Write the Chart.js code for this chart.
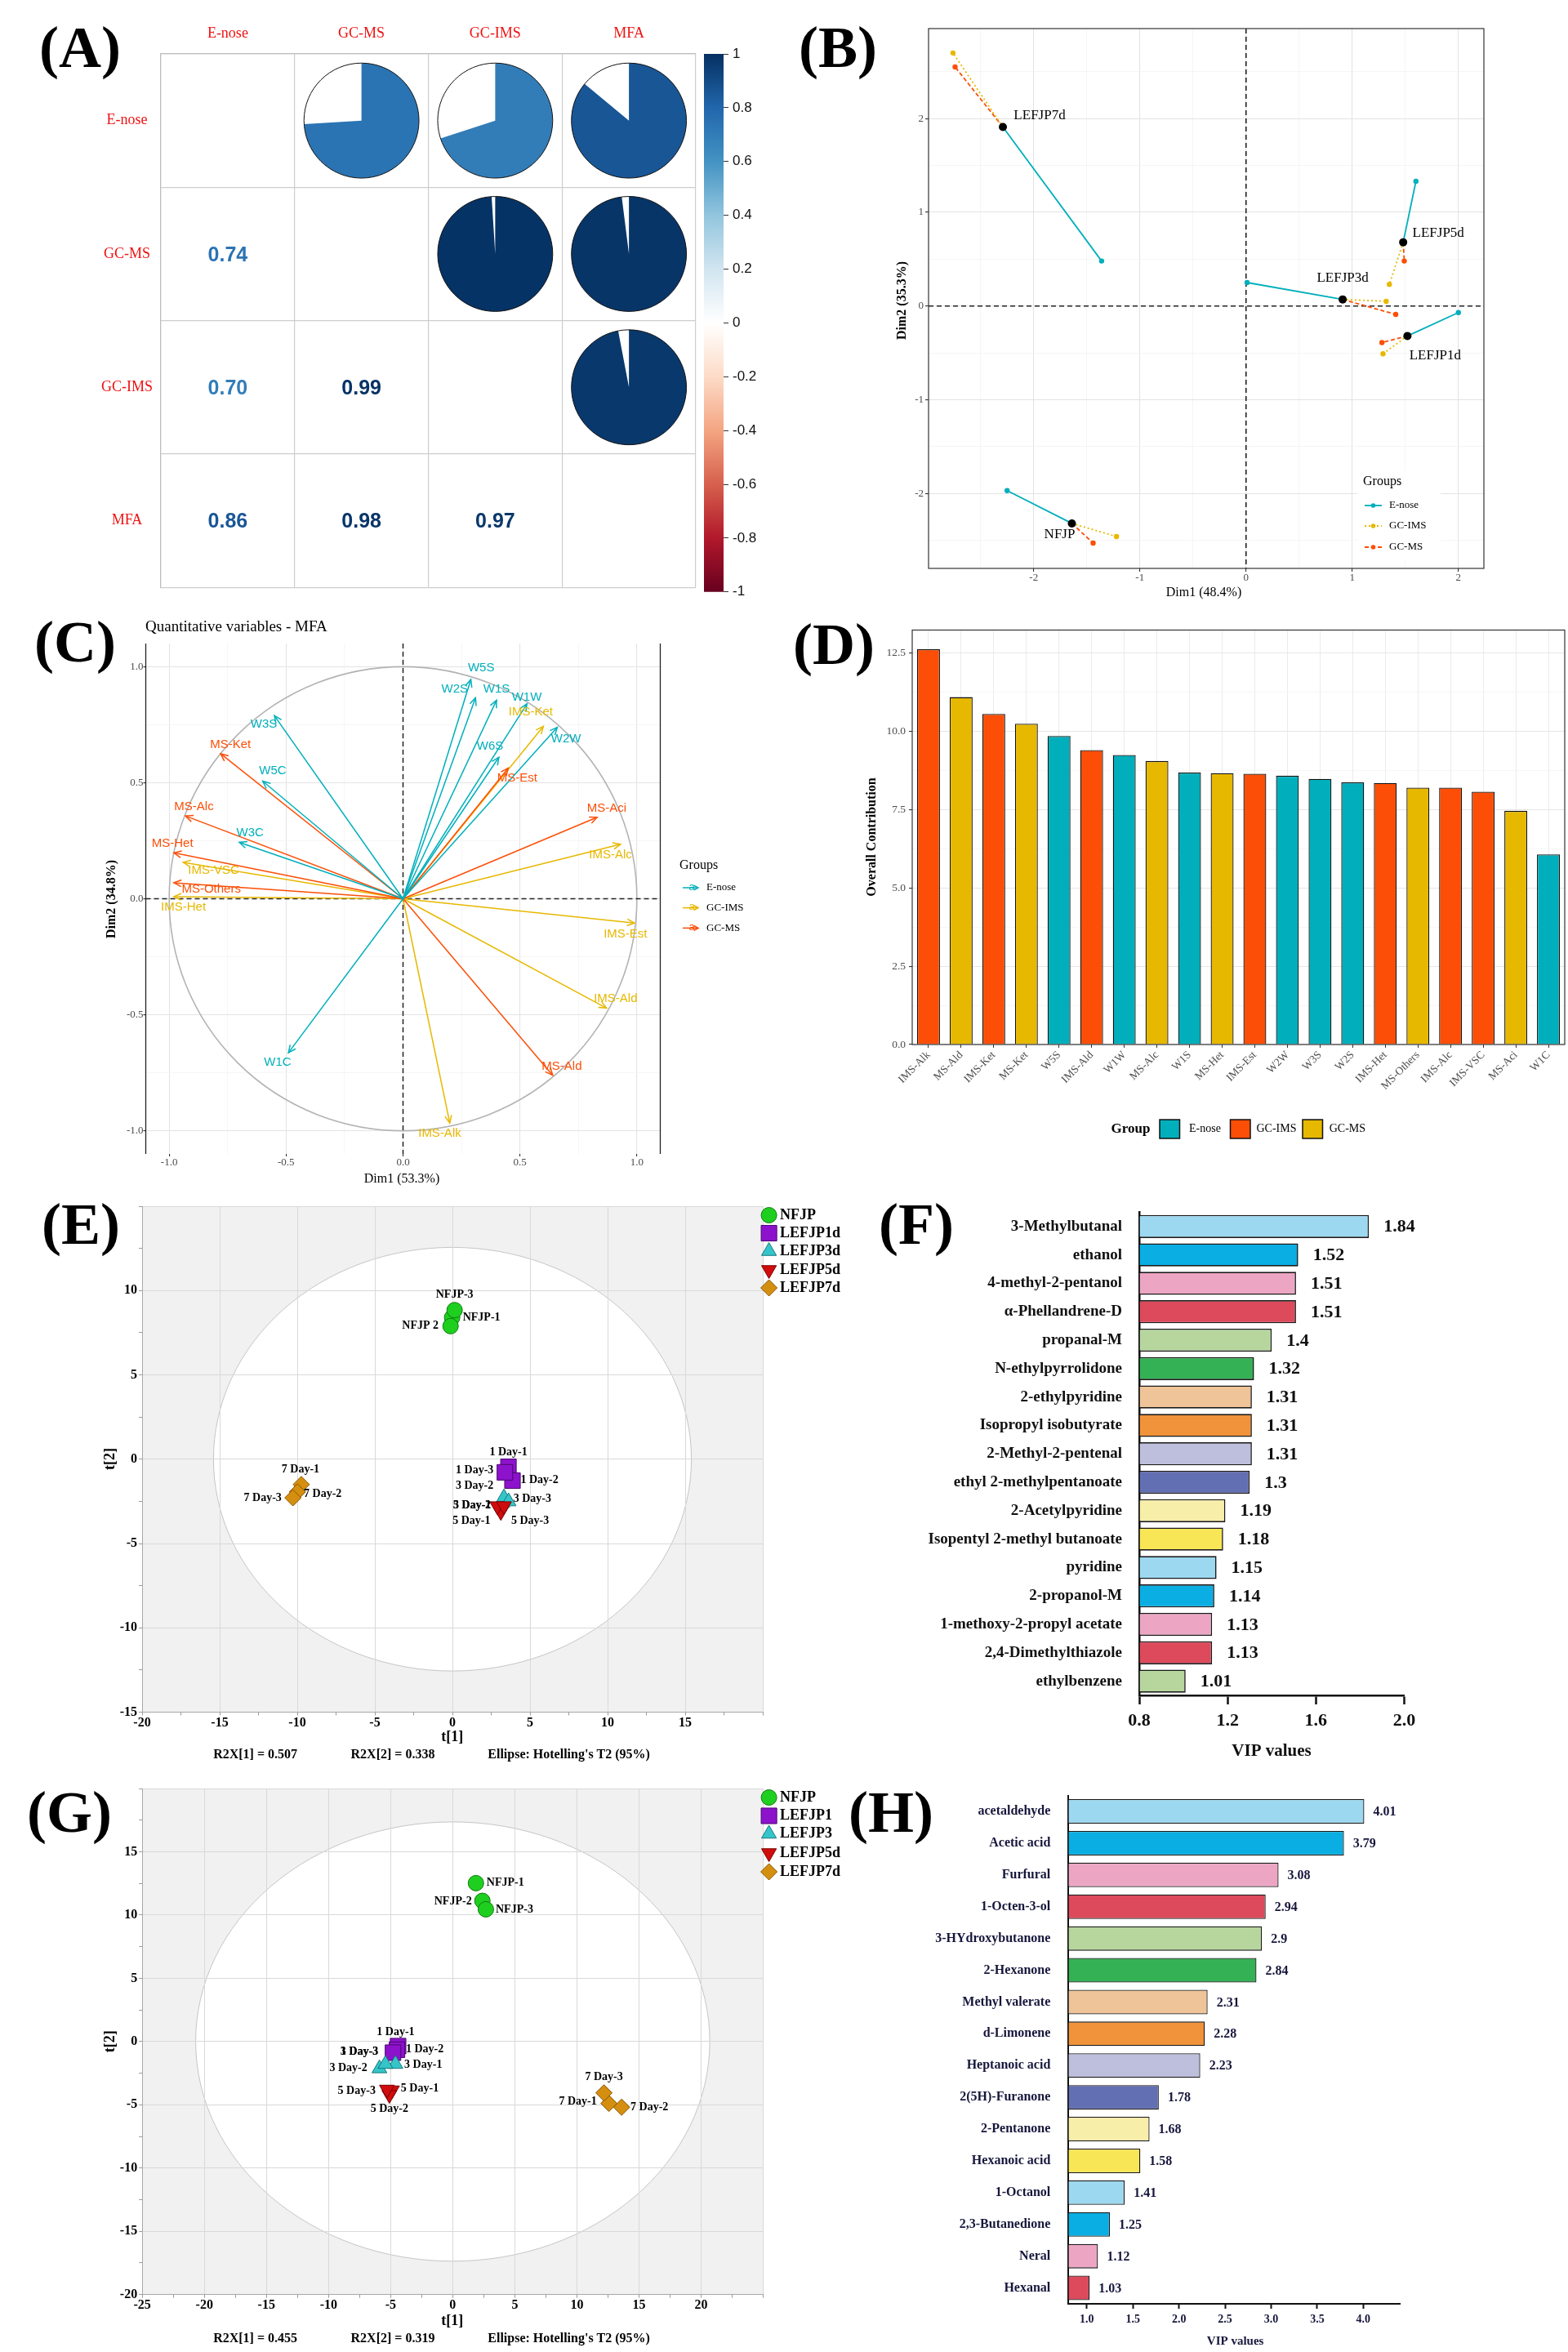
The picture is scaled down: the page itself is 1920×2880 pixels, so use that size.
<!DOCTYPE html>
<html><head><meta charset="utf-8"><title>Figure</title>
<script src="https://cdn.jsdelivr.net/npm/chart.js@4.4.1/dist/chart.umd.min.js"></script>
<style>
html,body{margin:0;padding:0;background:#fff;}
body{position:relative;width:1920px;height:2880px;overflow:hidden;}
canvas{position:absolute;}
.plab{position:absolute;font-family:'Liberation Serif','Times New Roman',serif;font-weight:bold;font-size:72px;line-height:1;color:#000;white-space:nowrap;}
</style></head>
<body>
<div class="plab" style="left:48px;top:22px">(A)</div>
<div class="plab" style="left:978px;top:22px">(B)</div>
<div class="plab" style="left:42px;top:750px">(C)</div>
<div class="plab" style="left:971px;top:753px">(D)</div>
<div class="plab" style="left:51px;top:1463px">(E)</div>
<div class="plab" style="left:1076px;top:1463px">(F)</div>
<div class="plab" style="left:33px;top:2183px">(G)</div>
<div class="plab" style="left:1039px;top:2183px">(H)</div>
<script>
/* ================= DATA ================= */
// (A) correlation matrix
const corrLabels = ['E-nose','GC-MS','GC-IMS','MFA'];
const corrRows = [
  [1.00, 0.74, 0.70, 0.86],
  [0.74, 1.00, 0.99, 0.98],
  [0.70, 0.99, 1.00, 0.97],
  [0.86, 0.98, 0.97, 1.00]
];
const colorbarRange = [-1, 1];
const colorbarTicks = [-1,-0.8,-0.6,-0.4,-0.2,0,0.2,0.4,0.6,0.8,1];

// (B) MFA individuals with partial points
const mfaSamples = ['NFJP','LEFJP1d','LEFJP3d','LEFJP5d','LEFJP7d'];
const mfaDim1   = [-1.64, 1.52, 0.91, 1.48, -2.29];
const mfaDim2   = [-2.32, -0.32, 0.07, 0.68, 1.91];
const enoseDim1 = [-2.25, 2.00, 0.01, 1.60, -1.36];
const enoseDim2 = [-1.97, -0.07, 0.25, 1.33, 0.48];
const gcimsDim1 = [-1.22, 1.29, 1.32, 1.35, -2.76];
const gcimsDim2 = [-2.46, -0.51, 0.05, 0.23, 2.70];
const gcmsDim1  = [-1.44, 1.28, 1.41, 1.49, -2.74];
const gcmsDim2  = [-2.53, -0.39, -0.09, 0.48, 2.55];
const bTicksX = [-2.5,-2,-1.5,-1,-0.5,0,0.5,1,1.5,2];
const bTicksY = [-2.5,-2,-1.5,-1,-0.5,0,0.5,1,1.5,2,2.5];

// (C) MFA variable correlation circle
const cVars   = ['W5S','W2S','W1S','W1W','W2W','W6S','W3S','W5C','W3C','W1C',
                 'MS-Ket','MS-Alc','MS-Het','MS-Others','MS-Est','MS-Aci','MS-Ald',
                 'IMS-Ket','IMS-Alc','IMS-Est','IMS-Ald','IMS-Alk','IMS-VSC','IMS-Het'];
const cGroups = ['E-nose','E-nose','E-nose','E-nose','E-nose','E-nose','E-nose','E-nose','E-nose','E-nose',
                 'GC-MS','GC-MS','GC-MS','GC-MS','GC-MS','GC-MS','GC-MS',
                 'GC-IMS','GC-IMS','GC-IMS','GC-IMS','GC-IMS','GC-IMS','GC-IMS'];
const cDim1 = [0.29,0.31,0.40,0.53,0.66,0.41,-0.55,-0.60,-0.70,-0.49,
               -0.78,-0.93,-0.98,-0.98,0.45,0.83,0.64,
               0.60,0.93,0.99,0.87,0.20,-0.94,-0.98];
const cDim2 = [0.945,0.866,0.856,0.84,0.739,0.61,0.789,0.507,0.243,-0.664,
               0.625,0.357,0.198,0.069,0.563,0.351,-0.761,
               0.743,0.235,-0.105,-0.471,-0.967,0.157,0.009];
const cLabDim1 = [0.334,0.221,0.40,0.529,0.697,0.372,-0.595,-0.557,-0.654,-0.536,
                  -0.738,-0.894,-0.986,-0.820,0.488,0.871,0.679,
                  0.546,0.887,0.951,0.909,0.157,-0.810,-0.939];
const cLabDim2 = [0.994,0.905,0.903,0.868,0.690,0.657,0.751,0.551,0.284,-0.705,
                  0.665,0.396,0.239,0.042,0.520,0.391,-0.723,
                  0.805,0.189,-0.151,-0.431,-1.011,0.123,-0.035];
const cTicks = [-1,-0.75,-0.5,-0.25,0,0.25,0.5,0.75,1];

// (D) overall contribution
const contribVars = ['IMS-Alk','MS-Ald','IMS-Ket','MS-Ket','W5S','IMS-Ald','W1W','MS-Alc','W1S','MS-Het',
                     'IMS-Est','W2W','W3S','W2S','IMS-Het','MS-Others','IMS-Alc','IMS-VSC','MS-Aci','W1C'];
const contribGroups = ['GC-IMS','GC-MS','GC-IMS','GC-MS','E-nose','GC-IMS','E-nose','GC-MS','E-nose','GC-MS',
                       'GC-IMS','E-nose','E-nose','E-nose','GC-IMS','GC-MS','GC-IMS','GC-IMS','GC-MS','E-nose'];
const contribValues = [12.62,11.09,10.55,10.24,9.85,9.40,9.24,9.05,8.68,8.66,
                       8.64,8.58,8.48,8.37,8.35,8.20,8.20,8.07,7.46,6.07];
const dTicksY = [0,1.25,2.5,3.75,5,6.25,7.5,8.75,10,11.25,12.5];

// (E) PCA scores (GC-IMS)
const eGroups = ['NFJP','LEFJP1d','LEFJP3d','LEFJP5d','LEFJP7d'];
const eSamples = [['NFJP-1','NFJP 2','NFJP-3'],['1 Day-1','1 Day-2','1 Day-3'],['3 Day-1','3 Day-2','3 Day-3'],['5 Day-1','5 Day-2','5 Day-3'],['7 Day-1','7 Day-2','7 Day-3']];
const eT1 = [[-0.02,-0.12,0.14],[3.61,3.87,3.38],[3.22,3.32,3.62],[3.12,2.89,3.32],[-9.74,-9.99,-10.28]];
const eT2 = [[8.40,7.89,8.84],[-0.45,-1.27,-0.78],[-2.58,-2.27,-2.51],[-3.12,-2.78,-2.78],[-1.50,-1.94,-2.29]];
const eEllipse = [15.4, 12.56];
const eTicksX = [-20,-17.5,-15,-12.5,-10,-7.5,-5,-2.5,0,2.5,5,7.5,10,12.5,15,17.5,20];
const eTicksY = [-15,-12.5,-10,-7.5,-5,-2.5,0,2.5,5,7.5,10,12.5,15];
const eFooter = ['R2X[1] = 0.507','R2X[2] = 0.338','Ellipse: Hotelling\'s T2 (95%)'];

// (F) VIP values
const fCompounds = ['3-Methylbutanal','ethanol','4-methyl-2-pentanol','\u03b1-Phellandrene-D','propanal-M','N-ethylpyrrolidone',
  '2-ethylpyridine','Isopropyl isobutyrate','2-Methyl-2-pentenal','ethyl 2-methylpentanoate','2-Acetylpyridine',
  'Isopentyl 2-methyl butanoate','pyridine','2-propanol-M','1-methoxy-2-propyl acetate','2,4-Dimethylthiazole','ethylbenzene'];
const fVIP = [1.84,1.52,1.51,1.51,1.4,1.32,1.31,1.31,1.31,1.3,1.19,1.18,1.15,1.14,1.13,1.13,1.01];
const fTicks = [0.8,1.2,1.6,2.0];

// (G) PCA scores (GC-MS)
const gGroups = ['NFJP','LEFJP1','LEFJP3','LEFJP5d','LEFJP7d'];
const gSamples = [['NFJP-1','NFJP-2','NFJP-3'],['1 Day-1','1 Day-2','1 Day-3'],['3 Day-1','3 Day-2','3 Day-3'],['5 Day-1','5 Day-2','5 Day-3'],['7 Day-1','7 Day-2','7 Day-3']];
const gT1 = [[1.87,2.39,2.67],[-4.40,-4.49,-4.81],[-4.61,-5.90,-5.42],[-4.89,-5.10,-5.30],[12.58,13.60,12.18]];
const gT2 = [[12.52,11.12,10.45],[-0.36,-0.65,-0.88],[-1.78,-2.13,-1.78],[-3.85,-4.21,-3.79],[-4.89,-5.19,-4.06]];
const gEllipse = [20.7, 17.36];
const gTicksX = [-25,-22.5,-20,-17.5,-15,-12.5,-10,-7.5,-5,-2.5,0,2.5,5,7.5,10,12.5,15,17.5,20,22.5,25];
const gTicksY = [-20,-17.5,-15,-12.5,-10,-7.5,-5,-2.5,0,2.5,5,7.5,10,12.5,15,17.5,20];
const gFooter = ['R2X[1] = 0.455','R2X[2] = 0.319','Ellipse: Hotelling\'s T2 (95%)'];

// (H) VIP values
const hCompounds = ['acetaldehyde','Acetic acid','Furfural','1-Octen-3-ol','3-HYdroxybutanone','2-Hexanone','Methyl valerate',
  'd-Limonene','Heptanoic acid','2(5H)-Furanone','2-Pentanone','Hexanoic acid','1-Octanol','2,3-Butanedione','Neral','Hexanal'];
const hVIP = [4.01,3.79,3.08,2.94,2.9,2.84,2.31,2.28,2.23,1.78,1.68,1.58,1.41,1.25,1.12,1.03];
const hTicks = [1.0,1.5,2.0,2.5,3.0,3.5,4.0];

/* ================= STYLE / LAYOUT ================= */
const SERIF = "'Liberation Serif','Times New Roman',serif";
const SANS = "'Liberation Sans',Arial,sans-serif";
const NARROW = "'Liberation Sans Narrow','Liberation Sans',Arial,sans-serif";
const RDBU = ['#67001F','#B2182B','#D6604D','#F4A582','#FDDBC7','#FFFFFF','#D1E5F0','#92C5DE','#4393C3','#2166AC','#053061'];
const groupColors = {'E-nose':'#00AFBB','GC-IMS':'#E7B800','GC-MS':'#FC4E07'};
const dColors = {'E-nose':'#00AFBB','GC-IMS':'#FC4E07','GC-MS':'#E7B800'};
const vipPalette = ['#9DD8F1','#0AAEE2','#ECA6C3','#DC4A5C','#B6D69E','#35B155','#EEC498','#F0933A','#BEBFDD','#636FB3','#F7EEA9','#F8E656'];
const markerStyles = [
  {shape:'circle', r:9.5, rot:0, bg:'#1fcf1f', bd:'#0d7a0d'},
  {shape:'rect', r:13.5, rot:0, bg:'#8d12cc', bd:'#4b0870'},
  {shape:'triangle', r:10.5, rot:0, bg:'#34c5c9', bd:'#16797d'},
  {shape:'triangle', r:10.5, rot:180, bg:'#d00c0c', bd:'#780000'},
  {shape:'rectRot', r:10, rot:0, bg:'#d58f10', bd:'#875500'}
];

Chart.defaults.animation = false;
Chart.defaults.responsive = false;
Chart.defaults.maintainAspectRatio = false;
Chart.defaults.devicePixelRatio = 1;
Chart.defaults.events = [];
Chart.defaults.plugins.legend.display = false;
Chart.defaults.plugins.tooltip.enabled = false;
Chart.defaults.font.family = SERIF;
Chart.defaults.color = '#000';

function hex2rgb(h){return [parseInt(h.slice(1,3),16),parseInt(h.slice(3,5),16),parseInt(h.slice(5,7),16)];}
function rdbu(v){
  const t=(v+1)/2*10; const i=Math.max(0,Math.min(9,Math.floor(t))); const f=t-i;
  const a=hex2rgb(RDBU[i]), b=hex2rgb(RDBU[i+1]);
  return 'rgb('+a.map((c,k)=>Math.round(c+(b[k]-c)*f)).join(',')+')';
}
function makeCanvas(box){
  const c=document.createElement('canvas');
  c.width=box.w; c.height=box.h;
  c.style.left=box.x+'px'; c.style.top=box.y+'px'; c.style.width=box.w+'px'; c.style.height=box.h+'px';
  document.body.appendChild(c); return c;
}
function padFor(box,area){return {left:0, top:area.t-box.y, right:(box.x+box.w)-area.r, bottom:0};}
const fitX=(box,area)=>s=>{s.height=(box.y+box.h)-area.b;};
const fitY=(box,area)=>s=>{s.width=area.l-box.x;};
function setTicks(arr){return s=>{s.ticks=arr.map(v=>({value:v}));};}
function isMult(c,step){ if(!c.tick) return false; const q=c.tick.value/step; return Math.abs(q-Math.round(q))<1e-9; }
// text in page coordinates
function T(ctx,box,s,x,y,o){
  o=o||{};
  ctx.save();
  ctx.font=(o.weight||'normal')+' '+(o.size||14)+'px '+(o.family||SERIF);
  ctx.fillStyle=o.color||'#000';
  ctx.textAlign=o.align||'center';
  ctx.textBaseline=o.baseline||'middle';
  ctx.translate(x-box.x,y-box.y);
  if(o.rot) ctx.rotate(o.rot);
  ctx.fillText(s,0,0);
  ctx.restore();
}
function drawMarker(ctx,st,x,y,r){
  ctx.save(); ctx.fillStyle=st.bg; ctx.strokeStyle=st.bd; ctx.lineWidth=1;
  if(Chart.helpers && Chart.helpers.drawPoint){
    Chart.helpers.drawPoint(ctx,{pointStyle:st.shape,rotation:st.rot,radius:r||st.r,borderWidth:1},x,y);
  } else { ctx.beginPath(); ctx.arc(x,y,r||st.r,0,2*Math.PI); ctx.fill(); ctx.stroke(); }
  ctx.restore();
}
function arrowHead(ctx,x0,y0,x1,y1,color,L,w,lw){
  const a=Math.atan2(y1-y0,x1-x0);
  ctx.save(); ctx.strokeStyle=color; ctx.lineWidth=lw||1.5; ctx.setLineDash([]);
  ctx.beginPath();
  ctx.moveTo(x1-L*Math.cos(a-w),y1-L*Math.sin(a-w)); ctx.lineTo(x1,y1); ctx.lineTo(x1-L*Math.cos(a+w),y1-L*Math.sin(a+w));
  ctx.stroke(); ctx.restore();
}

/* ================= (A) ================= */
const boxA={x:100,y:20,w:760,h:720}, areaA={l:197,t:66,r:852,b:726};
const upperCells=[], lowerCells=[];
corrLabels.forEach((row,i)=>corrLabels.forEach((col,j)=>{
  if(j>i) upperCells.push({x:col,y:row,v:corrRows[i][j]});
  else if(j<i) lowerCells.push({x:col,y:row,v:corrRows[i][j]});
}));
const corrPlugin={id:'corr', afterDatasetsDraw(chart){
  const ctx=chart.ctx, xs=chart.scales.x;
  const cell=Math.abs(xs.getPixelForValue(1)-xs.getPixelForValue(0));
  const R=cell*0.43;
  const up=chart.data.datasets[0].data, lo=chart.data.datasets[1].data;
  chart.getDatasetMeta(0).data.forEach((el,i)=>{
    const v=up[i].v, s=-Math.PI/2;
    ctx.save();
    ctx.beginPath(); ctx.arc(el.x,el.y,R,0,2*Math.PI); ctx.fillStyle='#fff'; ctx.fill();
    ctx.beginPath(); ctx.moveTo(el.x,el.y); ctx.arc(el.x,el.y,R,s,s+2*Math.PI*v); ctx.closePath(); ctx.fillStyle=rdbu(v); ctx.fill();
    ctx.beginPath(); ctx.arc(el.x,el.y,R,0,2*Math.PI); ctx.strokeStyle='#111'; ctx.lineWidth=1; ctx.stroke();
    ctx.restore();
  });
  chart.getDatasetMeta(1).data.forEach((el,i)=>{
    const v=lo[i].v;
    ctx.save(); ctx.font='bold 25px '+NARROW; ctx.fillStyle=rdbu(v); ctx.textAlign='center'; ctx.textBaseline='middle';
    ctx.fillText(v.toFixed(2),el.x,el.y+2); ctx.restore();
  });
}};
new Chart(makeCanvas(boxA),{
  type:'scatter',
  data:{datasets:[{data:upperCells,pointRadius:0},{data:lowerCells,pointRadius:0}]},
  options:{
    layout:{padding:{left:0,top:0,right:(boxA.x+boxA.w)-areaA.r,bottom:(boxA.y+boxA.h)-areaA.b}},
    scales:{
      x:{type:'category',labels:corrLabels,position:'top',offset:true,
         grid:{offset:true,color:'#cdcdcd',lineWidth:1.2,drawTicks:false},
         border:{color:'#bdbdbd',width:1.2},
         ticks:{color:'#ee1111',font:{family:SERIF,size:18},padding:14},
         afterFit:s=>{s.height=areaA.t-boxA.y;}},
      y:{type:'category',labels:corrLabels,offset:true,
         grid:{offset:true,color:'#cdcdcd',lineWidth:1.2,drawTicks:false},
         border:{color:'#bdbdbd',width:1.2},
         ticks:{color:'#ee1111',font:{family:SERIF,size:18},padding:10,crossAlign:'center'},
         afterFit:s=>{s.width=areaA.l-boxA.x;}}
    }
  },
  plugins:[corrPlugin]
});
// colour bar
const boxCB={x:850,y:20,w:90,h:720}, areaCB={l:862,t:66,r:886,b:726};
new Chart(makeCanvas(boxCB),{
  type:'bar',
  data:{labels:['r'],datasets:[{data:[colorbarRange],borderWidth:0,barPercentage:1,categoryPercentage:1,
    backgroundColor:c=>{const a=c.chart.chartArea; if(!a) return RDBU[10];
      const g=c.chart.ctx.createLinearGradient(0,a.bottom,0,a.top); RDBU.forEach((col,k)=>g.addColorStop(k/10,col)); return g;}}]},
  options:{
    layout:{padding:{left:areaCB.l-boxCB.x,top:areaCB.t-boxCB.y,right:0,bottom:(boxCB.y+boxCB.h)-areaCB.b}},
    scales:{
      x:{display:false},
      y:{position:'right',bounds:'data',min:-1,max:1,afterBuildTicks:setTicks(colorbarTicks),
         ticks:{callback:v=>String(+v.toFixed(1)),font:{family:NARROW,size:17},color:'#111',padding:5},
         grid:{drawOnChartArea:false,tickLength:6,tickColor:'#333',lineWidth:1},
         border:{display:false},
         afterFit:s=>{s.width=(boxCB.x+boxCB.w)-areaCB.r;}}
    }
  }
});

/* ================= (B) ================= */
const boxB={x:1080,y:20,w:830,h:720}, areaB={l:1137,t:35,r:1817,b:696};
const bTables=[
  {name:'E-nose',x:enoseDim1,y:enoseDim2,dash:[]},
  {name:'GC-IMS',x:gcimsDim1,y:gcimsDim2,dash:[2,3]},
  {name:'GC-MS',x:gcmsDim1,y:gcmsDim2,dash:[5,3]}
];
const bLabelOffsets=[[-15,14],[34,24.5],[0,-26],[43,-11],[45,-14]];
const bLegendY=[619,644,670];
const bDatasets=[{data:mfaSamples.map((s,i)=>({x:mfaDim1[i],y:mfaDim2[i]})),showLine:false,order:-1,
  pointRadius:5,pointBackgroundColor:'#000',pointBorderColor:'#000',pointBorderWidth:0}];
bTables.forEach(t=>mfaSamples.forEach((s,i)=>bDatasets.push({
  data:[{x:mfaDim1[i],y:mfaDim2[i]},{x:t.x[i],y:t.y[i]}],showLine:true,
  borderColor:groupColors[t.name],borderWidth:1.8,borderDash:t.dash,
  pointRadius:[0,3.2],pointBackgroundColor:groupColors[t.name],pointBorderWidth:0})));
const bPlugin={id:'bdeco',
  beforeDatasetsDraw(chart){
    const {ctx,chartArea:a,scales:{x,y}}=chart;
    const x0=x.getPixelForValue(0), y0=y.getPixelForValue(0);
    ctx.save(); ctx.strokeStyle='#222'; ctx.lineWidth=1.6; ctx.setLineDash([6,4]);
    ctx.beginPath(); ctx.moveTo(x0,a.top); ctx.lineTo(x0,a.bottom); ctx.moveTo(a.left,y0); ctx.lineTo(a.right,y0); ctx.stroke();
    ctx.restore();
  },
  afterDraw(chart){
    const {ctx,chartArea:a,scales:{x,y}}=chart;
    ctx.save(); ctx.strokeStyle='#333'; ctx.lineWidth=1.2; ctx.strokeRect(a.left,a.top,a.right-a.left,a.bottom-a.top); ctx.restore();
    mfaSamples.forEach((s,i)=>{
      const px=x.getPixelForValue(mfaDim1[i])+bLabelOffsets[i][0], py=y.getPixelForValue(mfaDim2[i])+bLabelOffsets[i][1];
      ctx.save(); ctx.font='17px '+SERIF; ctx.fillStyle='#000'; ctx.textAlign='center'; ctx.textBaseline='middle'; ctx.fillText(s,px,py); ctx.restore();
    });
    // legend
    ctx.save(); ctx.fillStyle='#fff'; ctx.fillRect(1662-boxB.x,577-boxB.y,102,109); ctx.restore();
    T(ctx,boxB,'Groups',1669,590,{size:16,align:'left'});
    bTables.forEach((t,k)=>{
      const yy=bLegendY[k]-boxB.y;
      ctx.save(); ctx.strokeStyle=groupColors[t.name]; ctx.lineWidth=1.8; ctx.setLineDash(t.dash);
      ctx.beginPath(); ctx.moveTo(1671-boxB.x,yy); ctx.lineTo(1692-boxB.x,yy); ctx.stroke();
      ctx.setLineDash([]); ctx.fillStyle=groupColors[t.name]; ctx.beginPath(); ctx.arc(1681.5-boxB.x,yy,2.8,0,2*Math.PI); ctx.fill();
      ctx.restore();
      T(ctx,boxB,t.name,1701,bLegendY[k],{size:13,align:'left'});
    });
    T(ctx,boxB,'Dim1 (48.4%)',1474,726,{size:16});
    T(ctx,boxB,'Dim2 (35.3%)',1105,368,{size:16,weight:'bold',rot:-Math.PI/2});
  }
};
new Chart(makeCanvas(boxB),{
  type:'scatter',
  data:{datasets:bDatasets},
  options:{
    layout:{padding:padFor(boxB,areaB)},
    scales:{
      x:{type:'linear',bounds:'data',min:-2.99,max:2.24,afterBuildTicks:setTicks(bTicksX),
         ticks:{autoSkip:false,maxRotation:0,callback:v=>Number.isInteger(v)?String(v):'',font:{family:SERIF,size:13},color:'#4d4d4d',padding:0},
         grid:{color:c=>isMult(c,1)?'#e3e3e3':'#f1f1f1',lineWidth:c=>isMult(c,1)?1.1:0.7,tickLength:4,tickColor:c=>isMult(c,1)?'#333':'rgba(0,0,0,0)'},
         border:{display:false},afterFit:fitX(boxB,areaB)},
      y:{type:'linear',bounds:'data',min:-2.80,max:2.96,afterBuildTicks:setTicks(bTicksY),
         ticks:{autoSkip:false,callback:v=>Number.isInteger(v)?String(v):'',font:{family:SERIF,size:13},color:'#4d4d4d',padding:2},
         grid:{color:c=>isMult(c,1)?'#e3e3e3':'#f1f1f1',lineWidth:c=>isMult(c,1)?1.1:0.7,tickLength:4,tickColor:c=>isMult(c,1)?'#333':'rgba(0,0,0,0)'},
         border:{display:false},afterFit:fitY(boxB,areaB)}
    }
  },
  plugins:[bPlugin]
});

/* ================= (C) ================= */
const boxC={x:100,y:740,w:860,h:720}, areaC={l:178.5,t:788,r:808.5,b:1413};
const cLegendY=[1087,1111.6,1136.4];
const cLegendOrder=['E-nose','GC-IMS','GC-MS'];
const cDatasets=cVars.map((v,i)=>({data:[{x:0,y:0},{x:cDim1[i],y:cDim2[i]}],showLine:true,
  borderColor:groupColors[cGroups[i]],borderWidth:1.5,pointRadius:0}));
const cPlugin={id:'cdeco',
  beforeDatasetsDraw(chart){
    const {ctx,chartArea:a,scales:{x,y}}=chart;
    const x0=x.getPixelForValue(0), y0=y.getPixelForValue(0);
    const rx=Math.abs(x.getPixelForValue(1)-x0), ry=Math.abs(y.getPixelForValue(1)-y0);
    ctx.save();
    ctx.strokeStyle='#b3b3b3'; ctx.lineWidth=1.6; ctx.beginPath(); ctx.ellipse(x0,y0,rx,ry,0,0,2*Math.PI); ctx.stroke();
    ctx.strokeStyle='#222'; ctx.lineWidth=1.5; ctx.setLineDash([6,4]);
    ctx.beginPath(); ctx.moveTo(x0,a.top); ctx.lineTo(x0,a.bottom); ctx.moveTo(a.left,y0); ctx.lineTo(a.right,y0); ctx.stroke();
    ctx.setLineDash([]); ctx.strokeStyle='#222'; ctx.lineWidth=1.3;
    ctx.beginPath(); ctx.moveTo(a.left,a.top); ctx.lineTo(a.left,a.bottom); ctx.moveTo(a.right,a.top); ctx.lineTo(a.right,a.bottom); ctx.stroke();
    ctx.restore();
  },
  afterDatasetsDraw(chart){
    const {ctx,scales:{x,y}}=chart;
    chart.data.datasets.forEach((ds,i)=>{
      const m=chart.getDatasetMeta(i); const p0=m.data[0], p1=m.data[1];
      arrowHead(ctx,p0.x,p0.y,p1.x,p1.y,ds.borderColor,10,0.42,1.5);
    });
    cVars.forEach((v,i)=>{
      ctx.save(); ctx.font='15px '+SANS; ctx.fillStyle=groupColors[cGroups[i]]; ctx.textAlign='center'; ctx.textBaseline='middle';
      ctx.fillText(v,x.getPixelForValue(cLabDim1[i]),y.getPixelForValue(cLabDim2[i])); ctx.restore();
    });
  },
  afterDraw(chart){
    const ctx=chart.ctx;
    T(ctx,boxC,'Quantitative variables - MFA',178,768,{size:19,align:'left'});
    T(ctx,boxC,'Dim1 (53.3%)',492,1444,{size:16});
    T(ctx,boxC,'Dim2 (34.8%)',137,1101,{size:16,weight:'bold',rot:-Math.PI/2});
    T(ctx,boxC,'Groups',832,1060,{size:16,align:'left'});
    cLegendOrder.forEach((g,k)=>{
      const yy=cLegendY[k]-boxC.y, col=groupColors[g];
      ctx.save(); ctx.strokeStyle=col; ctx.lineWidth=1.5; ctx.beginPath(); ctx.moveTo(836-boxC.x,yy); ctx.lineTo(855-boxC.x,yy); ctx.stroke(); ctx.restore();
      arrowHead(ctx,836-boxC.x,yy,855-boxC.x,yy,col,6,0.5,1.5);
      T(ctx,boxC,'a',847,cLegendY[k]-1,{size:13,family:SANS,color:col});
      T(ctx,boxC,g,865,cLegendY[k],{size:13,align:'left'});
    });
  }
};
const cTickLabel=v=>isMult({tick:{value:v}},0.5)?v.toFixed(1):'';
new Chart(makeCanvas(boxC),{
  type:'scatter',
  data:{datasets:cDatasets},
  options:{
    layout:{padding:padFor(boxC,areaC)},
    scales:{
      x:{type:'linear',bounds:'data',min:-1.1,max:1.1,afterBuildTicks:setTicks(cTicks),
         ticks:{autoSkip:false,maxRotation:0,callback:cTickLabel,font:{family:SERIF,size:13},color:'#4d4d4d',padding:0},
         grid:{color:c=>isMult(c,0.5)?'#e4e4e4':'#f2f2f2',lineWidth:c=>isMult(c,0.5)?1.1:0.7,tickLength:3,tickColor:c=>isMult(c,0.5)?'#333':'rgba(0,0,0,0)'},
         border:{display:false},afterFit:fitX(boxC,areaC)},
      y:{type:'linear',bounds:'data',min:-1.1,max:1.1,afterBuildTicks:setTicks(cTicks),
         ticks:{autoSkip:false,callback:cTickLabel,font:{family:SERIF,size:13},color:'#4d4d4d',padding:0},
         grid:{color:c=>isMult(c,0.5)?'#e4e4e4':'#f2f2f2',lineWidth:c=>isMult(c,0.5)?1.1:0.7,tickLength:3,tickColor:c=>isMult(c,0.5)?'#333':'rgba(0,0,0,0)'},
         border:{display:false},afterFit:fitY(boxC,areaC)}
    }
  },
  plugins:[cPlugin]
});

/* ================= (D) ================= */
const boxD={x:1000,y:740,w:920,h:700}, areaD={l:1117,t:771.5,r:1916,b:1279};
const dLegend=[{g:'E-nose',bx:1420,tx:1456},{g:'GC-IMS',bx:1506.5,tx:1538.5},{g:'GC-MS',bx:1595,tx:1627.7}];
const dPlugin={id:'ddeco',afterDraw(chart){
  const {ctx,chartArea:a}=chart;
  ctx.save(); ctx.strokeStyle='#333'; ctx.lineWidth=1.2; ctx.strokeRect(a.left,a.top,a.right-a.left,a.bottom-a.top); ctx.restore();
  T(ctx,boxD,'Overall Contribution',1068,1025,{size:16,weight:'bold',rot:-Math.PI/2});
  T(ctx,boxD,'Group',1384.5,1382.5,{size:17,weight:'bold'});
  dLegend.forEach(it=>{
    ctx.save(); ctx.fillStyle=dColors[it.g]; ctx.fillRect(it.bx-boxD.x,1371-boxD.y,24.5,23);
    ctx.strokeStyle='#111'; ctx.lineWidth=1.5; ctx.strokeRect(it.bx-boxD.x,1371-boxD.y,24.5,23); ctx.restore();
    T(ctx,boxD,it.g,it.tx,1382.5,{size:14,align:'left'});
  });
}};
new Chart(makeCanvas(boxD),{
  type:'bar',
  data:{labels:contribVars,datasets:[{data:contribValues,backgroundColor:contribGroups.map(g=>dColors[g]),
    borderColor:'#111',borderWidth:1.3,barPercentage:0.7,categoryPercentage:1}]},
  options:{
    layout:{padding:padFor(boxD,areaD)},
    scales:{
      x:{type:'category',offset:true,
         grid:{offset:false,color:'#ebebeb',lineWidth:1,tickLength:4,tickColor:'#333'},
         ticks:{autoSkip:false,maxRotation:45,minRotation:45,font:{family:SERIF,size:13.5},color:'#4d4d4d',padding:1},
         border:{display:false},afterFit:fitX(boxD,areaD)},
      y:{type:'linear',bounds:'data',min:0,max:13.23,afterBuildTicks:setTicks(dTicksY),
         ticks:{autoSkip:false,callback:v=>isMult({tick:{value:v}},2.5)?v.toFixed(1):'',font:{family:SERIF,size:13.5},color:'#4d4d4d',padding:4},
         grid:{color:c=>isMult(c,2.5)?'#e6e6e6':'#f2f2f2',lineWidth:c=>isMult(c,2.5)?1.1:0.7,tickLength:4,tickColor:c=>isMult(c,2.5)?'#333':'rgba(0,0,0,0)'},
         border:{display:false},afterFit:fitY(boxD,areaD)}
    }
  },
  plugins:[dPlugin]
});

/* ================= (E) & (G) score plots ================= */
function scorePanel(o){
  const datasets=o.groups.map((g,k)=>({label:g,order:5-k,
    data:o.t1[k].map((x,i)=>({x,y:o.t2[k][i]})),showLine:false,
    pointStyle:markerStyles[k].shape,pointRadius:markerStyles[k].r,pointRotation:markerStyles[k].rot,
    pointBackgroundColor:markerStyles[k].bg,pointBorderColor:markerStyles[k].bd,pointBorderWidth:1}));
  const plugin={id:'score',
    beforeDraw(chart){
      const {ctx,chartArea:a,scales:{x,y}}=chart;
      ctx.save(); ctx.fillStyle='#f1f1f1'; ctx.fillRect(a.left,a.top,a.right-a.left,a.bottom-a.top);
      const cx=x.getPixelForValue(0), cy=y.getPixelForValue(0);
      const rx=Math.abs(x.getPixelForValue(o.ellipse[0])-cx), ry=Math.abs(y.getPixelForValue(o.ellipse[1])-cy);
      ctx.beginPath(); ctx.ellipse(cx,cy,rx,ry,0,0,2*Math.PI); ctx.fillStyle='#fff'; ctx.fill();
      ctx.strokeStyle='#c6c6c6'; ctx.lineWidth=1; ctx.stroke(); ctx.restore();
    },
    afterDatasetsDraw(chart){
      const ctx=chart.ctx;
      o.groups.forEach((g,k)=>{
        chart.getDatasetMeta(k).data.forEach((el,i)=>{
          ctx.save(); ctx.font='bold 14px '+SERIF; ctx.fillStyle='#000'; ctx.textAlign='center'; ctx.textBaseline='middle';
          ctx.fillText(o.names[k][i],el.x+o.offsets[k][i][0],el.y+o.offsets[k][i][1]); ctx.restore();
        });
      });
    },
    afterDraw(chart){
      const ctx=chart.ctx;
      o.groups.forEach((g,k)=>{
        drawMarker(ctx,markerStyles[k],941.6-o.box.x,o.legendY[k]-o.box.y,Math.min(markerStyles[k].r,13.5));
        T(ctx,o.box,g,955,o.legendY[k],{size:18,weight:'bold',align:'left'});
      });
      T(ctx,o.box,'t[1]',553.8,o.t1Y,{size:18,weight:'bold'});
      T(ctx,o.box,'t[2]',135,o.t2Y,{size:18,weight:'bold',rot:-Math.PI/2});
      T(ctx,o.box,o.footer[0],312.6,o.footY,{size:16,weight:'bold'});
      T(ctx,o.box,o.footer[1],481,o.footY,{size:16,weight:'bold'});
      T(ctx,o.box,o.footer[2],696.6,o.footY,{size:16,weight:'bold'});
    }
  };
  const grid={color:c=>isMult(c,5)?'#d9d9d9':'rgba(0,0,0,0)',lineWidth:1,tickLength:4,tickColor:'#9a9a9a'};
  new Chart(makeCanvas(o.box),{
    type:'scatter',
    data:{datasets},
    options:{
      layout:{padding:padFor(o.box,o.area)},
      scales:{
        x:{type:'linear',bounds:'data',min:o.xr[0],max:o.xr[1],afterBuildTicks:setTicks(o.xTicks),
           ticks:{autoSkip:false,maxRotation:0,callback:v=>(isMult({tick:{value:v}},5)&&v<o.xr[1])?String(v):'',font:{family:SERIF,size:16,weight:'bold'},color:'#000',padding:0},
           grid:grid,border:{color:'#a8a8a8',width:1},afterFit:fitX(o.box,o.area)},
        y:{type:'linear',bounds:'data',min:o.yr[0],max:o.yr[1],afterBuildTicks:setTicks(o.yTicks),
           ticks:{autoSkip:false,callback:v=>(isMult({tick:{value:v}},5)&&v<o.yr[1])?String(v):'',font:{family:SERIF,size:16,weight:'bold'},color:'#000',padding:2},
           grid:grid,border:{color:'#a8a8a8',width:1},afterFit:fitY(o.box,o.area)}
      }
    },
    plugins:[plugin]
  });
}
scorePanel({
  box:{x:100,y:1460,w:960,h:710}, area:{l:174,t:1477,r:934,b:2096.5},
  groups:eGroups, names:eSamples, t1:eT1, t2:eT2, ellipse:eEllipse,
  xr:[-20,20], yr:[-15,15], xTicks:eTicksX, yTicks:eTicksY,
  offsets:[[[36,0],[-37,0],[0,-19]],[[0,-18],[33,-1],[-37,-2]],[[-37,3],[-36,-14],[29,-3]],[[-36,11],[-31,-1],[32,18]],[[-1,-18],[31,3],[-37,0]]],
  legendY:[1488,1510,1532,1555,1577], t1Y:2127, t2Y:1786.6, footY:2149, footer:eFooter
});
scorePanel({
  box:{x:100,y:2175,w:960,h:705}, area:{l:174.2,t:2190,r:934.5,b:2809.7},
  groups:gGroups, names:gSamples, t1:gT1, t2:gT2, ellipse:gEllipse,
  xr:[-25,25], yr:[-20,20], xTicks:gTicksX, yTicks:gTicksY,
  offsets:[[[36,0],[-36,1],[35,0]],[[-3,-17],[34,-1],[-41,-1]],[[34,1],[-38,0],[-32,-15]],[[34,-2],[0,17],[-37,2]],[[-38,-2],[34,0],[0,-19]]],
  legendY:[2201,2223.5,2245.5,2269,2292], t1Y:2842, t2Y:2499.8, footY:2864, footer:gFooter
});

/* ================= (F) & (H) VIP bars ================= */
function vipPanel(o){
  new Chart(makeCanvas(o.box),{
    type:'bar',
    data:{labels:o.labels,datasets:[{data:o.values,base:o.xr[0],clip:0,
      backgroundColor:o.values.map((v,i)=>vipPalette[i%vipPalette.length]),
      borderColor:'#1a1a1a',borderWidth:o.bw,borderSkipped:'start',barPercentage:o.barPct,categoryPercentage:1}]},
    options:{
      indexAxis:'y',
      layout:{padding:padFor(o.box,o.area)},
      scales:{
        x:{type:'linear',bounds:'data',min:o.xr[0],max:o.xr[1],afterBuildTicks:setTicks(o.ticks),
           ticks:{autoSkip:false,maxRotation:0,callback:v=>v.toFixed(1),font:{family:SERIF,size:o.tickSize,weight:'bold'},color:o.color,padding:o.tickPad},
           grid:{drawOnChartArea:false,tickLength:o.tickLen,tickWidth:o.axisW,tickColor:'#111'},
           border:{color:'#111',width:o.axisW},afterFit:fitX(o.box,o.area)},
        y:{type:'category',grid:{display:false},border:{color:'#111',width:o.axisW},
           ticks:{autoSkip:false,font:{family:SERIF,size:o.catSize,weight:'bold'},color:o.color,padding:o.catPad},
           afterFit:fitY(o.box,o.area)}
      }
    },
    plugins:[{id:'vip',
      afterDatasetsDraw(chart){
        const ctx=chart.ctx;
        chart.getDatasetMeta(0).data.forEach((el,i)=>{
          ctx.save(); ctx.font='bold '+o.valSize+'px '+SERIF; ctx.fillStyle=o.color; ctx.textAlign='left'; ctx.textBaseline='middle';
          ctx.fillText(String(o.values[i]),el.x+o.gap,el.y+1); ctx.restore();
        });
      },
      afterDraw(chart){ T(chart.ctx,o.box,'VIP values',o.titlePos[0],o.titlePos[1],{size:o.titleSize,weight:'bold',color:o.color}); }
    }]
  });
}
vipPanel({
  box:{x:1060,y:1460,w:860,h:720}, area:{l:1395,t:1477,r:1719.4,b:2076},
  labels:fCompounds, values:fVIP, xr:[0.8,2.0], ticks:fTicks,
  bw:1.6, barPct:0.81, axisW:2.5, tickLen:11, tickSize:22, tickPad:7, catSize:19, catPad:13,
  valSize:22, gap:18, color:'#111', titlePos:[1557,2145], titleSize:21
});
vipPanel({
  box:{x:1060,y:2175,w:860,h:705}, area:{l:1308.3,t:2188,r:1714.5,b:2821},
  labels:hCompounds, values:hVIP, xr:[0.8,4.4], ticks:hTicks,
  bw:1.3, barPct:0.77, axisW:2, tickLen:6, tickSize:14, tickPad:5, catSize:16, catPad:14,
  valSize:16, gap:11, color:'#16163c', titlePos:[1512.6,2867], titleSize:15
});
</script>
</body></html>
